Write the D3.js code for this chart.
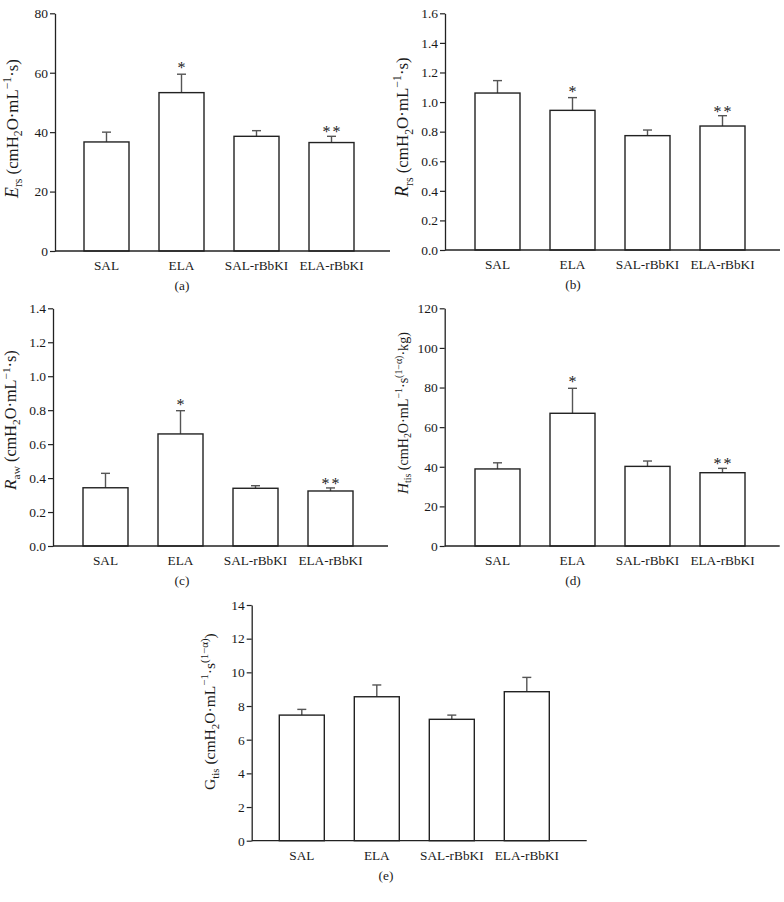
<!DOCTYPE html>
<html>
<head>
<meta charset="utf-8">
<script src="https://cdn.jsdelivr.net/npm/d3@7/dist/d3.min.js"></script>
<style>
  html, body { margin: 0; padding: 0; background: #fff; }
  svg { display: block; }
  text { font-family: "Liberation Serif", "Times New Roman", serif; fill: #1a1a1a; }
</style>
</head>
<body>
<svg id="chart" width="784" height="902"></svg>
<script>
// ---------- data ----------
const categories = ["SAL", "ELA", "SAL-rBbKI", "ELA-rBbKI"];

const ersMean = [36.7, 53.3, 38.6, 36.5];
const ersErr  = [3.3, 6.2, 1.9, 2.1];
const ersTicks = [0, 20, 40, 60, 80];

const rrsMean = [1.061, 0.944, 0.773, 0.838];
const rrsErr  = [0.084, 0.086, 0.038, 0.070];
const rrsTicks = [0, 0.2, 0.4, 0.6, 0.8, 1.0, 1.2, 1.4, 1.6];

const rawMean = [0.343, 0.660, 0.340, 0.324];
const rawErr  = [0.085, 0.137, 0.015, 0.018];
const rawTicks = [0, 0.2, 0.4, 0.6, 0.8, 1.0, 1.2, 1.4];

const htisMean = [38.9, 67.0, 40.2, 37.0];
const htisErr  = [3.1, 12.6, 2.7, 2.2];
const htisTicks = [0, 20, 40, 60, 80, 100, 120];

const gtisMean = [7.46, 8.55, 7.21, 8.85];
const gtisErr  = [0.34, 0.70, 0.25, 0.85];
const gtisTicks = [0, 2, 4, 6, 8, 10, 12, 14];

const starsABCD = ["", "*", "", "**"];
const starsE = ["", "", "", ""];

const panelLabels = ["(a)", "(b)", "(c)", "(d)", "(e)"];

// y-axis title pieces: [text, kind] kind: n normal, i italic, b subscript, p superscript
const titleA = [["E","i"],["rs","b"],[" (cmH","n"],["2","b"],["O·mL","n"],["−1","p"],["·s)","n"]];
const titleB = [["R","i"],["rs","b"],[" (cmH","n"],["2","b"],["O·mL","n"],["−1","p"],["·s)","n"]];
const titleC = [["R","i"],["aw","b"],[" (cmH","n"],["2","b"],["O·mL","n"],["−1","p"],["·s)","n"]];
const titleD = [["H","i"],["tis","b"],[" (cmH","n"],["2","b"],["O·mL","n"],["−1","p"],["·s","n"],["(1−α)","p"],["·kg)","n"]];
const titleE = [["G","n"],["tis","b"],[" (cmH","n"],["2","b"],["O·mL","n"],["−1","p"],["·s","n"],["(1−α)","p"],[")","n"]];

// ---------- layout ----------
const panels = [
  { mean: ersMean,  err: ersErr,  ticks: ersTicks,  fmt: d3.format("d"),  stars: starsABCD, title: titleA, label: panelLabels[0],
    ax: 55,    top: 13.3,  zero: 251,   bandX: 69,    labelX: 182, tStart: 198, tEnd: 58 },
  { mean: rrsMean,  err: rrsErr,  ticks: rrsTicks,  fmt: d3.format(".1f"), stars: starsABCD, title: titleB, label: panelLabels[1],
    ax: 445,   top: 13.3,  zero: 250,   bandX: 460,   labelX: 573, tStart: 197, tEnd: 56 },
  { mean: rawMean,  err: rawErr,  ticks: rawTicks,  fmt: d3.format(".1f"), stars: starsABCD, title: titleC, label: panelLabels[2],
    ax: 53,    top: 308.3, zero: 546,   bandX: 68,    labelX: 182, tStart: 490, tEnd: 349 },
  { mean: htisMean, err: htisErr, ticks: htisTicks, fmt: d3.format("d"),  stars: starsABCD, title: titleD, label: panelLabels[3],
    ax: 444.7, top: 308.3, zero: 546,   bandX: 460,   labelX: 573, tStart: 494, tEnd: 331 },
  { mean: gtisMean, err: gtisErr, ticks: gtisTicks, fmt: d3.format("d"),  stars: starsE,    title: titleE, label: panelLabels[4],
    ax: 251.7, top: 605,   zero: 840.7, bandX: 264.3, labelX: 386, tStart: 790, tEnd: 633 }
];

const svg = d3.select("#chart");
const LINE = "#222";
const ERR = "#555";
const FONT = "'Liberation Serif', 'Times New Roman', serif";

panels.forEach(p => {
  const g = svg.append("g");
  const yMax = p.ticks[p.ticks.length - 1];
  const y = d3.scaleLinear().domain([0, yMax]).range([p.zero, p.top]);
  const x = d3.scaleBand().domain(categories).range([p.bandX, p.bandX + 300])
    .paddingInner(0.4).paddingOuter(0.2);

  const data = categories.map((c, i) => ({ c, m: p.mean[i], e: p.err[i], s: p.stars[i] }));

  // error bars (upper only)
  const eb = g.append("g").attr("stroke", ERR).attr("stroke-width", 1.4);
  eb.selectAll("line.v").data(data).join("line")
    .attr("x1", d => x(d.c) + x.bandwidth() / 2).attr("x2", d => x(d.c) + x.bandwidth() / 2)
    .attr("y1", d => y(d.m)).attr("y2", d => y(d.m + d.e));
  eb.selectAll("line.h").data(data).join("line")
    .attr("x1", d => x(d.c) + x.bandwidth() / 2 - 4.5).attr("x2", d => x(d.c) + x.bandwidth() / 2 + 4.5)
    .attr("y1", d => y(d.m + d.e)).attr("y2", d => y(d.m + d.e));

  // bars
  g.append("g").selectAll("rect").data(data).join("rect")
    .attr("x", d => x(d.c)).attr("width", x.bandwidth())
    .attr("y", d => y(d.m)).attr("height", d => y(0) - y(d.m))
    .attr("fill", "#fff").attr("stroke", LINE).attr("stroke-width", 1.4);

  // stars
  g.append("g").selectAll("text").data(data.filter(d => d.s)).join("text")
    .attr("x", d => x(d.c) + x.bandwidth() / 2 + (d.s.length > 1 ? 1 : 0))
    .attr("y", d => y(d.m + d.e) + (d.s.length > 1 ? 1 : -1))
    .attr("text-anchor", "middle").attr("font-size", 16)
    .attr("letter-spacing", d => d.s.length > 1 ? 2 : 0)
    .text(d => d.s);

  // y axis
  const yAxis = d3.axisLeft(y).tickValues(p.ticks).tickFormat(p.fmt)
    .tickSize(5).tickSizeOuter(0).tickPadding(2);
  const ga = g.append("g").attr("transform", `translate(${p.ax},0)`).call(yAxis);
  ga.select(".domain").attr("stroke", LINE).attr("stroke-width", 1.3);
  ga.selectAll(".tick line").attr("stroke", LINE).attr("stroke-width", 1.2);
  ga.selectAll(".tick text").attr("font-size", 13.5)
    .attr("font-family", FONT).attr("fill", "#1a1a1a");

  // x axis line
  g.append("line").attr("x1", p.ax).attr("x2", p.ax + 335)
    .attr("y1", y(0)).attr("y2", y(0)).attr("stroke", LINE).attr("stroke-width", 1.3);

  // category labels
  const xAxis = d3.axisBottom(x).tickSize(0).tickPadding(10);
  const gx = g.append("g").attr("transform", `translate(0,${y(0)})`).call(xAxis);
  gx.select(".domain").remove();
  gx.selectAll(".tick text").attr("font-size", 13.3)
    .attr("font-family", FONT).attr("fill", "#1a1a1a");

  // panel label
  g.append("text").attr("x", p.labelX).attr("y", y(0) + 39)
    .attr("text-anchor", "middle").attr("font-size", 13.3).text(p.label);

  // y title: start at tStart, scaled to reach tEnd
  const tg = g.append("g");
  const t = tg.append("text").attr("text-anchor", "start").attr("font-size", 15);
  let shift = 0;
  p.title.forEach(([txt, kind]) => {
    let target = 0, size = 15, style = "normal";
    if (kind === "b") { target = 4; size = 10.5; }
    if (kind === "p") { target = -6; size = 10.5; }
    if (kind === "i") { style = "italic"; size = 16; }
    t.append("tspan").attr("dy", target - shift).attr("font-size", size)
      .attr("font-style", style).text(txt);
    shift = target;
  });
  const len = t.node().getBBox().width;
  let k = (p.tStart - p.tEnd) / len;
  k = Math.max(0.85, Math.min(1.2, k));
  tg.attr("transform", `translate(${p.ax - 37},${p.tStart}) rotate(-90) scale(${k})`);
});
</script>
</body>
</html>
